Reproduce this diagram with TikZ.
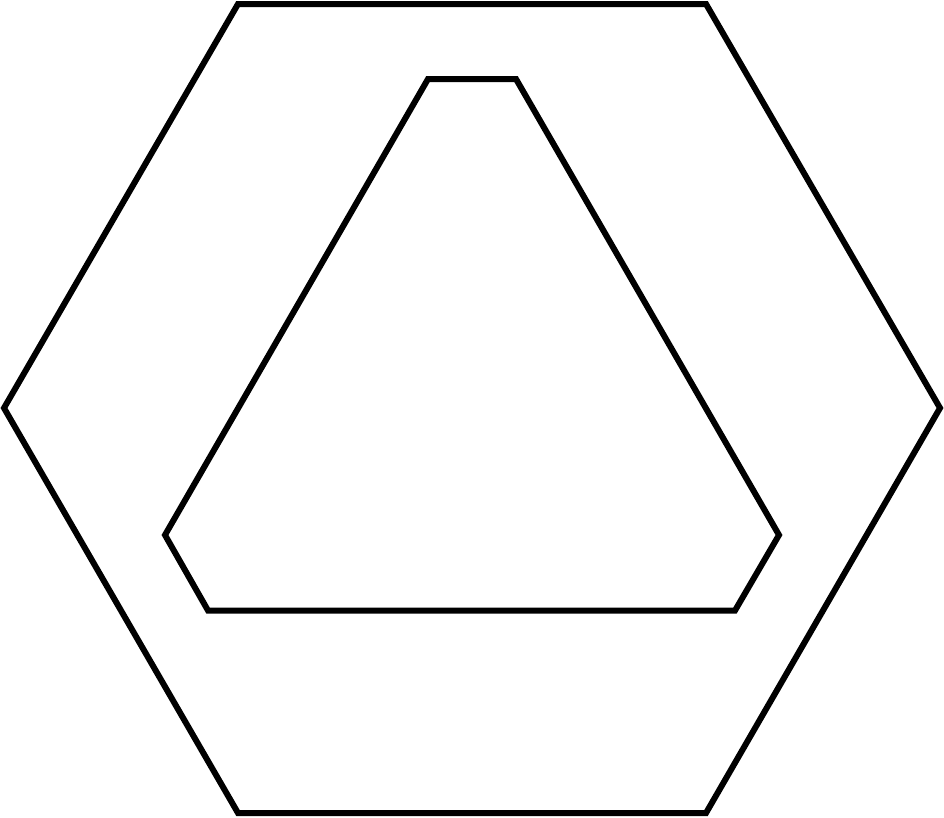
\documentclass[tikz,border=0pt]{standalone}
\begin{document}
\begin{tikzpicture}[x=1pt,y=-1pt,
  outline/.style={draw=black,line width=6pt,line join=miter}]
\fill[white] (0,0) rectangle (944,817);
\useasboundingbox (0,0) rectangle (944,817);
\draw[outline] (238,4) -- (706,4) -- (940,408) -- (706,813) -- (238,813) -- (4,408) -- cycle;
\draw[outline] (428,79) -- (516,79) -- (779,535) -- (735,610.5) -- (208,610.5) -- (165,535) -- cycle;
\end{tikzpicture}
\end{document}
